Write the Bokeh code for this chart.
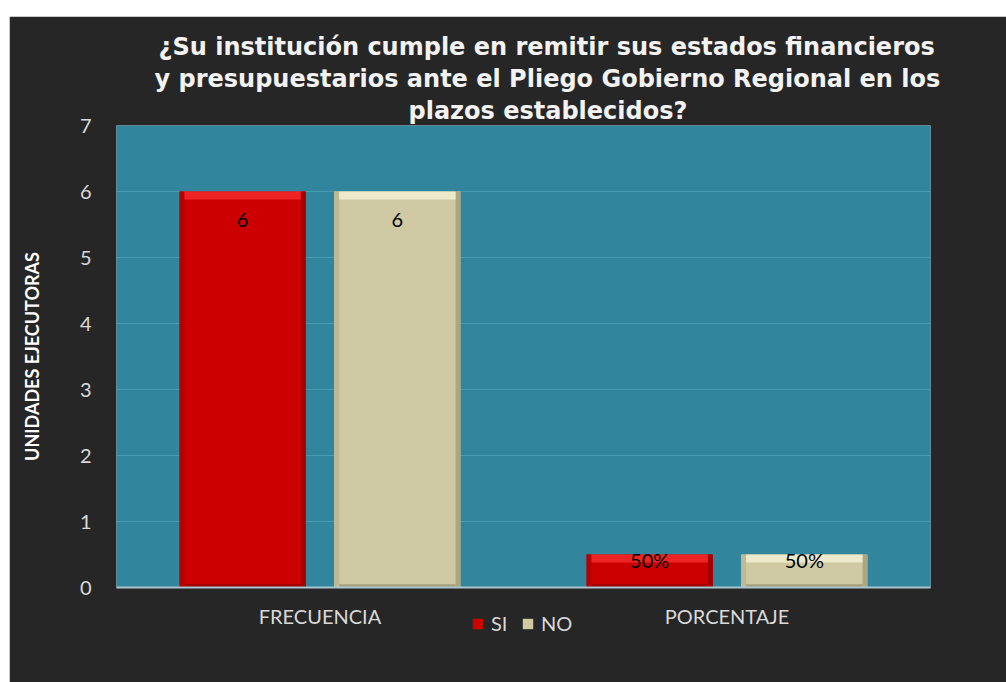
from bokeh.plotting import figure
from bokeh.models import ColumnDataSource, Legend, LegendItem, CDSView, IndexFilter, Range1d, Title
from bokeh.transform import dodge
from bokeh.layouts import column
from bokeh.embed import file_html
from bokeh.resources import INLINE
from bokeh.core.properties import value

# ---------------- data ----------------
categories = ["FRECUENCIA", "PORCENTAJE"]
series = ["SI", "NO"]
si_values = [6, 0.5]
no_values = [6, 0.5]
si_labels = ["6", "50%"]
no_labels = ["6", "50%"]
y_ticks = [0, 1, 2, 3, 4, 5, 6, 7]
title_lines = [
    "¿Su institución cumple en remitir sus estados financieros",
    "y presupuestarios ante el Pliego Gobierno Regional en los",
    "plazos establecidos?",
]
y_title = "UNIDADES EJECUTORAS"

# ---------------- styles ----------------
BG = "#262626"
PLOT_BG = "#31859C"
GRID = "#4B9BB0"
TXT = "#D9D9D9"
BAR_W = 0.31
OFF = 0.19
TOP_BEV = 0.12
BOT_BEV = 0.05
SIDE = 0.012
title_offsets = [42, 38, 292]

red = dict(main="#CC0000", top="#EE2424", bottom="#9E0000", left="#B50000", right="#A30000")
beige = dict(main="#CFCAA4", top="#EDEACB", bottom="#A6A17C", left="#BFBA95", right="#ACA782")

src = ColumnDataSource(dict(
    cat=categories,
    si=si_values, no=no_values,
    si_lab=si_labels, no_lab=no_labels,
    si_tb=[v - TOP_BEV for v in si_values],
    no_tb=[v - TOP_BEV for v in no_values],
    zero=[0 for _ in categories],
    bb=[BOT_BEV for _ in categories],
))

p = figure(
    x_range=categories, y_range=Range1d(0, 7),
    frame_width=814, frame_height=462,
    min_border_left=107, min_border_right=76, min_border_top=109, min_border_bottom=95,
    output_backend="svg", toolbar_location=None,
    background_fill_color=PLOT_BG, border_fill_color=BG, outline_line_color=None,
)

def bar(field, tb_field, off, c):
    main = p.vbar(x=dodge("cat", off, range=p.x_range), top=field, bottom=0, width=BAR_W,
                  source=src, fill_color=c["main"], line_color=None)
    p.vbar(x=dodge("cat", off - BAR_W / 2 + SIDE / 2, range=p.x_range), top=field, bottom=0,
           width=SIDE, source=src, fill_color=c["left"], line_color=None)
    p.vbar(x=dodge("cat", off + BAR_W / 2 - SIDE / 2, range=p.x_range), top=field, bottom=0,
           width=SIDE, source=src, fill_color=c["right"], line_color=None)
    p.vbar(x=dodge("cat", off, range=p.x_range), top=field, bottom=tb_field, width=BAR_W - 2 * SIDE,
           source=src, fill_color=c["top"], line_color=None)
    p.vbar(x=dodge("cat", off, range=p.x_range), top="bb", bottom="zero", width=BAR_W - 2 * SIDE,
           source=src, fill_color=c["bottom"], line_color=None)
    return main

bar("si", "si_tb", -OFF, red)
bar("no", "no_tb", OFF, beige)

# value labels
v_freq = CDSView(filter=IndexFilter([0]))
v_pct = CDSView(filter=IndexFilter([1]))
for fld, off in (("si_lab", -OFF), ("no_lab", OFF)):
    yf = fld.replace("_lab", "")
    p.text(x=dodge("cat", off, range=p.x_range), y=yf, text=fld, source=src, view=v_freq,
           text_align="center", text_baseline="middle", y_offset=28,
           text_font=value("Lato"), text_font_size="20px", text_color="black")
    p.text(x=dodge("cat", off, range=p.x_range), y=yf, text=fld, source=src, view=v_pct,
           text_align="center", text_baseline="middle", y_offset=5,
           text_font=value("Lato"), text_font_size="20px", text_color="black")

# axes
p.yaxis.ticker = y_ticks
p.yaxis.axis_line_color = None
p.yaxis.major_tick_line_color = None
p.yaxis.minor_tick_line_color = None
p.yaxis.major_label_text_color = TXT
p.yaxis.major_label_text_font = "Lato"
p.yaxis.major_label_text_font_size = "20px"
p.yaxis.major_label_standoff = 19
p.yaxis.axis_label = y_title
p.yaxis.axis_label_text_color = "white"
p.yaxis.axis_label_text_font = "Lato"
p.yaxis.axis_label_text_font_style = "bold"
p.yaxis.axis_label_text_font_size = "18px"
p.yaxis.axis_label_standoff = 34

p.xaxis.axis_line_color = "#A9C6D0"
p.xaxis.axis_line_width = 2
p.xaxis.major_tick_line_color = None
p.xaxis.minor_tick_line_color = None
p.xaxis.major_label_text_color = TXT
p.xaxis.major_label_text_font = "Lato"
p.xaxis.major_label_text_font_size = "20px"
p.xaxis.major_label_standoff = 10

p.xgrid.grid_line_color = None
p.ygrid.grid_line_color = GRID
p.ygrid.grid_line_width = 1

# title lines: the first added sits closest to the plot
for line, offset in reversed(list(zip(title_lines, title_offsets))):
    p.add_layout(Title(text=line, align="left", offset=offset, standoff=2,
                       text_color="#F2F2F2", text_font="DejaVu Sans",
                       text_font_style="bold", text_font_size="24px"), "above")

# ---------------- legend strip (transparent, overlaid on the chart's bottom border) ----------------
pl = figure(
    x_range=categories, y_range=Range1d(100, 101),
    frame_width=997, frame_height=30,
    min_border_left=0, min_border_right=0, min_border_top=0, min_border_bottom=0,
    x_axis_type=None, y_axis_type=None,
    output_backend="svg", toolbar_location=None,
    background_fill_alpha=0, border_fill_alpha=0, outline_line_color=None,
)
pl.grid.visible = False
pl.styles = {"margin-top": "-74px"}
l_si = pl.vbar(x="cat", top="si", bottom=0, width=BAR_W, source=src, fill_color=red["main"], line_color=None)
l_no = pl.vbar(x="cat", top="no", bottom=0, width=BAR_W, source=src, fill_color=beige["main"], line_color=None)

legend = Legend(
    items=[LegendItem(label=series[0], renderers=[l_si]), LegendItem(label=series[1], renderers=[l_no])],
    orientation="horizontal", location=(462, 3),
    background_fill_alpha=0, border_line_alpha=0,
    label_text_color=TXT, label_text_font="Lato", label_text_font_size="20px",
    glyph_width=13, glyph_height=13, label_standoff=7, spacing=10, padding=0, margin=0,
)
pl.add_layout(legend)

layout = column(p, pl, spacing=0)
layout.styles = {"margin-left": "9px", "margin-top": "16px"}

open("out.html", "w").write(file_html(layout, INLINE))
